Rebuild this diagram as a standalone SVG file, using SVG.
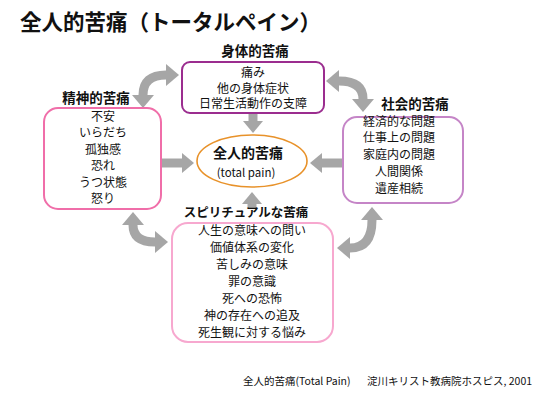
<svg xmlns="http://www.w3.org/2000/svg" width="550" height="410" viewBox="0 0 550 410">
<style>
text{font-family:"Noto Sans CJK JP","Noto Sans",sans-serif;fill:#111;}
.t{font-size:12px;text-anchor:middle;}
.lb{font-size:13.5px;font-weight:bold;text-anchor:middle;}
.arr{fill:none;stroke:#a6a6a6;stroke-width:9;}
.box{fill:#fff;stroke-width:2;}
</style>
<defs>
<marker id="ah" viewBox="0 0 12 20" refX="0" refY="10" markerWidth="12" markerHeight="20" markerUnits="userSpaceOnUse" orient="auto-start-reverse">
<path d="M0,0 L12,10 L0,20 z" fill="#a6a6a6"/>
</marker>
<marker id="ah2" viewBox="0 0 13 22" refX="0" refY="11" markerWidth="13" markerHeight="22" markerUnits="userSpaceOnUse" orient="auto-start-reverse">
<path d="M0,0 L13,11 L0,22 z" fill="#a6a6a6"/>
</marker>
</defs>
<rect width="550" height="410" fill="#fff"/>
<text x="20" y="29.5" style="font-size:21.5px;font-weight:bold">全人的苦痛（トータルペイン）</text>

<g id="connectors">
<path class="arr" d="M253,113 L253,121" marker-end="url(#ah)"/>
<path class="arr" d="M161,163 L182,163" marker-end="url(#ah)"/>
<path class="arr" d="M343,163 L322,163" marker-end="url(#ah)"/>
<path class="arr" d="M252,207 L252,204" marker-end="url(#ah)"/>
<path class="arr" d="M143,95 Q143,75 166,75" marker-start="url(#ah2)" marker-end="url(#ah2)"/>
<path class="arr" d="M339,81 Q363,81 363,99" marker-start="url(#ah2)" marker-end="url(#ah2)"/>
<path class="arr" d="M372,220 Q372,248 350,248" marker-start="url(#ah2)" marker-end="url(#ah2)"/>
<path class="arr" d="M133,225 Q133,242 155,242" marker-start="url(#ah2)" marker-end="url(#ah2)"/>
</g>

<g id="physical">
<rect class="box" x="182" y="62" width="142" height="51" rx="8" stroke="#9b2d8f"/>
<text class="lb" x="255" y="56">身体的苦痛</text>
<text class="t" x="253" y="76.5">痛み</text>
<text class="t" x="253" y="92.5">他の身体症状</text>
<text class="t" x="253" y="108">日常生活動作の支障</text>
</g>

<g id="mental">
<rect class="box" x="44" y="108" width="117" height="101" rx="14" stroke="#f06ea9"/>
<text class="lb" x="96" y="102.5">精神的苦痛</text>
<text class="t" x="103" y="120.5">不安</text>
<text class="t" x="103" y="137">いらだち</text>
<text class="t" x="103" y="153.5">孤独感</text>
<text class="t" x="103" y="170">恐れ</text>
<text class="t" x="103" y="186.5">うつ状態</text>
<text class="t" x="103" y="203">怒り</text>
</g>

<g id="social">
<rect class="box" x="343" y="117" width="120" height="86" rx="14" stroke="#c585c7"/>
<text class="lb" x="415" y="109">社会的苦痛</text>
<text class="t" x="399" y="125.5">経済的な問題</text>
<text class="t" x="399" y="142">仕事上の問題</text>
<text class="t" x="399" y="159">家庭内の問題</text>
<text class="t" x="399" y="175.5">人間関係</text>
<text class="t" x="399" y="192.5">遺産相続</text>
</g>

<g id="spiritual">
<rect class="box" x="172" y="223" width="161" height="119" rx="16" stroke="#f7a8cf"/>
<text class="lb" x="246" y="217" style="font-size:12.5px">スピリチュアルな苦痛</text>
<text class="t" x="252" y="235">人生の意味への問い</text>
<text class="t" x="252" y="252">価値体系の変化</text>
<text class="t" x="252" y="269">苦しみの意味</text>
<text class="t" x="252" y="286">罪の意識</text>
<text class="t" x="252" y="303">死への恐怖</text>
<text class="t" x="252" y="320">神の存在への追及</text>
<text class="t" x="252" y="336.5">死生観に対する悩み</text>
</g>

<g id="total">
<ellipse cx="252" cy="161" rx="55" ry="26" fill="#fff" stroke="#e8922a" stroke-width="1.6"/>
<text class="lb" x="248" y="158" style="font-size:14px">全人的苦痛</text>
<text class="t" x="246" y="177" style="font-size:11.5px">(total pain)</text>
</g>

<g id="footer">
<text x="243" y="384.5" style="font-size:10.5px">全人的苦痛(Total Pain)</text>
<text x="367" y="384.5" style="font-size:10.5px">淀川キリスト教病院ホスピス, 2001</text>
</g>
</svg>
